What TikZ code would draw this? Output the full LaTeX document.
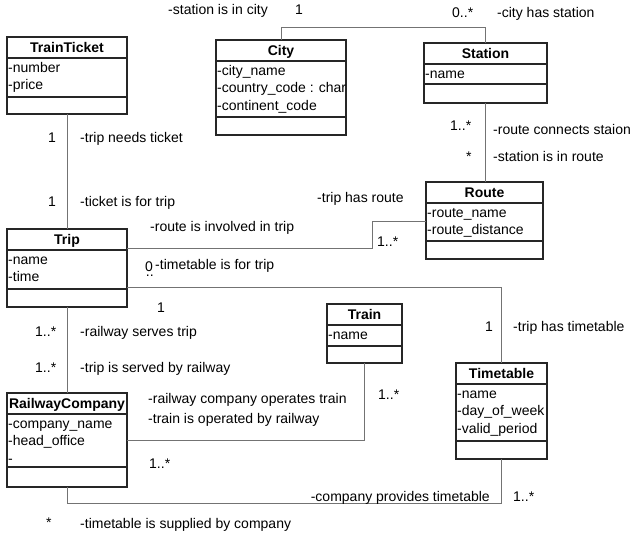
\documentclass[tikz,border=0pt]{standalone}
\usepackage{fontspec}
\setmainfont{Liberation Sans}
\usetikzlibrary{calc}

\tikzset{
  classbox/.style={draw=black!85, line width=1.1pt, fill=white, anchor=north west,
                   inner sep=0pt, outer sep=0pt},
  boxline/.style={draw=black!85, line width=1.1pt},
  assoc/.style={draw=black!55, line width=0.8pt},
  lbl/.style={anchor=base west, inner sep=0pt, text=black},
  attrtext/.style={anchor=base west, inner sep=0pt, text=black},
  titletext/.style={anchor=base, inner sep=0pt, font=\bfseries, text=black}
}

% #1 name, #2 left, #3 top, #4 width, #5 height,
% #6 bottom of attribute compartment (from top), #7 title, #8 attributes
\newcommand\umlclass[8]{%
  \node[classbox, minimum width=#4pt, minimum height=#5pt] (#1) at (#2,#3) {};
  \draw[boxline] ($(#1.north west)+(0,21)$) -- ($(#1.north east)+(0,21)$);
  \draw[boxline] ($(#1.north west)+(0,#6)$) -- ($(#1.north east)+(0,#6)$);
  \node[titletext] at ($(#1.north)+(0,16)$) {#7};
  \begin{scope}
    \clip (#1.north west) rectangle (#1.south east);
    \foreach \a [count=\i] in {#8}
      \node[attrtext] at ($(#1.north west)+(1,{35.5+(\i-1)*17.5})$) {\a};
  \end{scope}
}

\begin{document}
\fontsize{14}{16}\selectfont
\begin{tikzpicture}[x=1pt, y=-1pt]
  \useasboundingbox (0,0) rectangle (635,537);

  % classes
  \umlclass{ticket}{7}{37}{120}{77}{60}{TrainTicket}{-number,-price}
  \umlclass{city}{216}{40}{130}{95}{77}{City}{-city\_name,-country\_code : char,-continent\_code}
  \umlclass{station}{424}{43}{123}{60}{41}{Station}{-name}
  \umlclass{route}{426}{182}{117}{77}{59}{Route}{-route\_name,-route\_distance}
  \umlclass{trip}{7}{229}{120}{78}{60}{Trip}{-name,-time}
  \umlclass{train}{327}{304}{75}{59}{42}{Train}{-name}
  \umlclass{timetable}{456}{363}{91}{96}{78}{Timetable}{-name,-day\_of\_week,-valid\_period}
  \umlclass{rail}{7}{393}{120}{94}{74}{RailwayCompany}{-company\_name,-head\_office,-}

  % bend points of the associations
  \coordinate (tr1) at (372,248);
  \coordinate (tr2) at (372,221);
  \coordinate (tt1) at (500,287);
  \coordinate (rt1) at (364,440);
  \coordinate (rb1) at (0,503);

  % associations
  \draw[assoc] (ticket.south) -- (trip.north);
  \draw[assoc] (city.north) -- ++(0,-13) -| (station.north);
  \draw[assoc] (station.south) -- (station.south |- route.north);
  \draw[assoc] (trip.east |- tr1) -- (tr1) -- (tr2) -- (tr2 -| route.west);
  \draw[assoc] (trip.east |- tt1) -| (timetable.north);
  \draw[assoc] (trip.south) -- (rail.north);
  \draw[assoc] (rail.east |- rt1) -| (train.south);
  \draw[assoc] (rail.south) -- (rail.south |- rb1) -| (timetable.south);

  % role names and multiplicities
  \node[lbl] (l1) at (168,15) {-station is in city};
  \node[lbl] (m1) at (295,15) {1};
  \node[lbl] (m2) at (452,18) {0..*};
  \node[lbl] (l2) at (497,18) {-city has station};
  \node[lbl] (m3) at (450,131) {1..*};
  \node[lbl] (l3) at (493,135) {-route connects staion};
  \node[lbl] (m4) at (466,162) {*};
  \node[lbl] (l4) at (493,162) {-station is in route};

  \node[lbl] (m5) at (48,143) {1};
  \node[lbl] (l5) at (80,143) {-trip needs ticket};
  \node[lbl] (m6) at (48,207) {1};
  \node[lbl] (l6) at (80,207) {-ticket is for trip};

  \node[lbl] (l7) at (150,232) {-route is involved in trip};
  \node[lbl] (l8) at (317,203) {-trip has route};
  \node[lbl] (m7) at (377,247) {1..*};

  % the squeezed "0.." multiplicity: dots tucked under the zero
  \node[lbl] (m8) at (145,272) {0\kern-7pt\raisebox{-5pt}{..}\kern1pt};
  \node[lbl] (l9) at (155,270) {-timetable is for trip};
  \node[lbl] (m9) at (157,313) {1};
  \node[lbl] (m10) at (485,332) {1};
  \node[lbl] (l10) at (513,332) {-trip has timetable};

  \node[lbl] (m11) at (35,337) {1..*};
  \node[lbl] (l11) at (80,337) {-railway serves trip};
  \node[lbl] (m12) at (35,373) {1..*};
  \node[lbl] (l12) at (80,373) {-trip is served by railway};

  \node[lbl] (l13) at (148,404) {-railway company operates train};
  \node[lbl] (l14) at (148,424) {-train is operated by railway};
  \node[lbl] (m13) at (378,400) {1..*};
  \node[lbl] (m14) at (149,468) {1..*};

  \node[lbl, anchor=base east] (l15) at (490,501) {-company provides timetable};
  \node[lbl] (m15) at (513,501) {1..*};
  \node[lbl] (m16) at (46,527) {*};
  \node[lbl] (l16) at (80,528) {-timetable is supplied by company};
\end{tikzpicture}
\end{document}
